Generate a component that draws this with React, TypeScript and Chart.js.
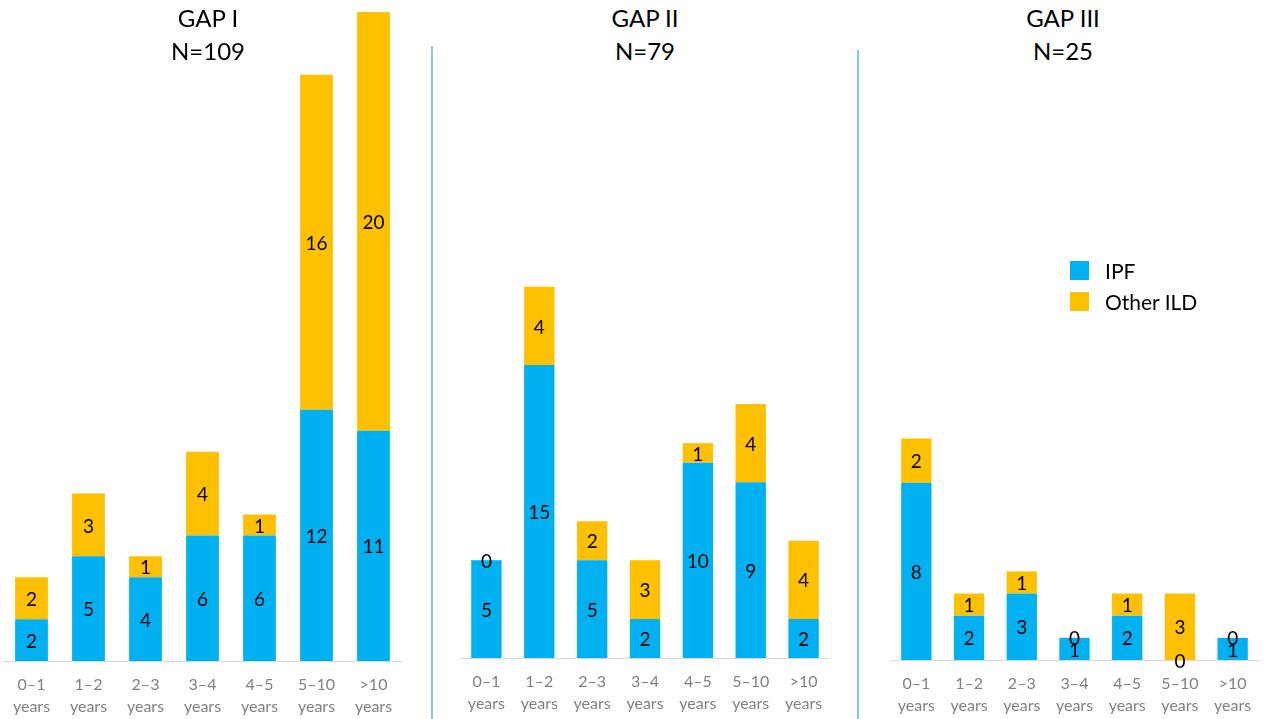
import React, { useEffect, useRef } from "react";
import { Chart, registerables } from "chart.js";

Chart.register(...registerables);

// ---------- data ----------
const categories: string[][] = [
  ["0–1", "years"],
  ["1–2", "years"],
  ["2–3", "years"],
  ["3–4", "years"],
  ["4–5", "years"],
  ["5–10", "years"],
  [">10", "years"],
];
const seriesNames = ["IPF", "Other ILD"];
const seriesColors = ["#00B0F0", "#FFC000"];

const gap1Title = ["GAP I", "N=109"];
const gap1Ipf = [2, 5, 4, 6, 6, 12, 11];
const gap1Other = [2, 3, 1, 4, 1, 16, 20];

const gap2Title = ["GAP II", "N=79"];
const gap2Ipf = [5, 15, 5, 2, 10, 9, 2];
const gap2Other = [0, 4, 2, 3, 1, 4, 4];

const gap3Title = ["GAP III", "N=25"];
const gap3Ipf = [8, 2, 3, 1, 2, 0, 1];
const gap3Other = [2, 1, 1, 0, 1, 3, 0];

// ---------- layout / style ----------
const FONT = "Lato, 'Open Sans', sans-serif";
const AXIS_H = 57;

type PanelCfg = {
  title: string[];
  ipf: number[];
  other: number[];
  yMax: number;
  left: number;
  top: number;
  width: number;
  plotHeight: number;
  titleX: number;
};

const panels: PanelCfg[] = [
  { title: gap1Title, ipf: gap1Ipf, other: gap1Other, yMax: 31, left: 3, top: 12, width: 399, plotHeight: 649, titleX: 208 },
  { title: gap2Title, ipf: gap2Ipf, other: gap2Other, yMax: 30, left: 460, top: 72, width: 370, plotHeight: 586, titleX: 645 },
  { title: gap3Title, ipf: gap3Ipf, other: gap3Other, yMax: 25, left: 890, top: 106, width: 369, plotHeight: 554, titleX: 1063 },
];

const valueLabels = {
  id: "valueLabels",
  afterDatasetsDraw(chart: any) {
    const ctx = chart.ctx;
    ctx.save();
    ctx.font = `19px ${FONT}`;
    ctx.fillStyle = "#000000";
    ctx.textAlign = "center";
    ctx.textBaseline = "middle";
    chart.data.datasets.forEach((ds: any, di: number) => {
      const meta = chart.getDatasetMeta(di);
      meta.data.forEach((el: any, i: number) => {
        const { x, y, base } = el.getProps(["x", "y", "base"], true);
        ctx.fillText(String(ds.data[i]), x, (y + base) / 2 + 1.5);
      });
    });
    ctx.restore();
  },
};

function Panel({ cfg }: { cfg: PanelCfg }) {
  const ref = useRef<HTMLCanvasElement>(null);
  useEffect(() => {
    const canvas = ref.current!;
    const chart = new Chart(canvas, {
      type: "bar",
      data: {
        labels: categories,
        datasets: [
          {
            label: seriesNames[0],
            data: cfg.ipf,
            backgroundColor: seriesColors[0],
            barPercentage: 0.575,
            categoryPercentage: 1,
          },
          {
            label: seriesNames[1],
            data: cfg.other,
            backgroundColor: seriesColors[1],
            barPercentage: 0.575,
            categoryPercentage: 1,
          },
        ],
      },
      options: {
        responsive: false,
        animation: false,
        devicePixelRatio: 1,
        layout: { padding: 0 },
        plugins: {
          legend: { display: false },
          tooltip: { enabled: false },
          title: { display: false },
        },
        scales: {
          x: {
            stacked: true,
            grid: {
              display: true,
              drawOnChartArea: false,
              drawTicks: true,
              tickLength: 13,
              color: "rgba(0,0,0,0)",
            },
            border: { display: true, color: "#D9D9D9", width: 1 },
            ticks: {
              padding: 0,
              color: "#808080",
              font: { family: FONT, size: 16, lineHeight: 1.375 },
              maxRotation: 0,
              autoSkip: false,
            },
          },
          y: { stacked: true, display: false, min: 0, max: cfg.yMax },
        },
      },
      plugins: [valueLabels],
    } as any);
    return () => chart.destroy();
  }, [cfg]);
  const h = cfg.plotHeight + AXIS_H;
  return (
    <>
      <canvas
        ref={ref}
        width={cfg.width}
        height={h}
        style={{ position: "absolute", left: cfg.left, top: cfg.top, width: cfg.width, height: h }}
      />
      <div
        style={{
          position: "absolute",
          left: cfg.titleX - 100,
          top: 1,
          width: 200,
          textAlign: "center",
          fontFamily: FONT,
          fontSize: 24,
          lineHeight: "33px",
          color: "#000",
        }}
      >
        {cfg.title.map((t) => (
          <div key={t}>{t}</div>
        ))}
      </div>
    </>
  );
}

export default function App() {
  return (
    <div
      style={{
        position: "absolute",
        left: 0,
        top: 0,
        width: 1266,
        height: 719,
        overflow: "hidden",
        background: "#fff",
      }}
    >
      {panels.map((p) => (
        <Panel key={p.title[0]} cfg={p} />
      ))}
      <div style={{ position: "absolute", left: 431, top: 46, width: 2, height: 673, background: "#7FCCE8" }} />
      <div style={{ position: "absolute", left: 857, top: 50, width: 2, height: 669, background: "#7FCCE8" }} />
      <div style={{ position: "absolute", left: 1070, top: 255, fontFamily: FONT, fontSize: 21, color: "#000" }}>
        {seriesNames.map((n, i) => (
          <div key={n} style={{ display: "flex", alignItems: "center", height: 31 }}>
            <div style={{ width: 19, height: 19, background: seriesColors[i], marginRight: 16 }} />
            <span>{n}</span>
          </div>
        ))}
      </div>
    </div>
  );
}
